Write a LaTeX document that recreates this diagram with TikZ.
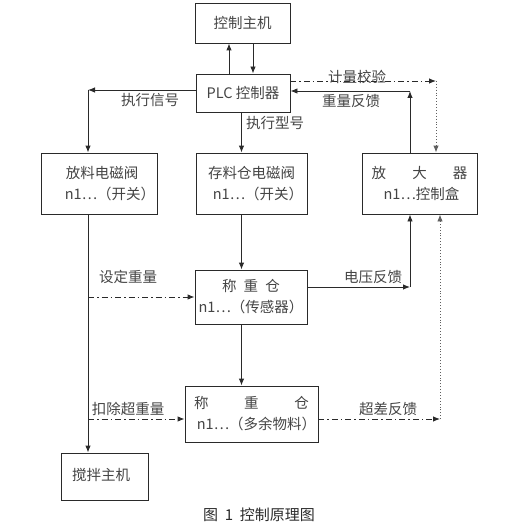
\documentclass[tikz,border=0pt]{standalone}
\usepackage{fontspec}
\setmainfont{Noto Sans CJK SC}
\usetikzlibrary{arrows.meta}
\definecolor{txt}{HTML}{444444}
\definecolor{ln}{HTML}{2A2A2A}
\begin{document}
\begin{tikzpicture}[x=1pt,y=-1pt,
  box/.style={draw=ln, line width=0.9pt, inner sep=0pt, align=center, text=txt,
    font=\fontsize{14.5}{21}\selectfont},
  lbl/.style={text=txt, font=\fontsize{14.5}{17}\selectfont, inner sep=0pt},
  con/.style={draw=ln, line width=0.9pt},
  arr/.style={-{Latex[length=7pt,width=5.5pt]}},
  dd/.style={dash pattern=on 6pt off 3pt on 1.5pt off 3pt},
  dt/.style={draw=ln!75, dotted, line width=0.9pt}
]
\useasboundingbox (0,0) rectangle (509,532);

% boxes
\node[box, minimum width=95pt, minimum height=40pt] (main) at (242.5,23) {控制主机};
\node[box, minimum width=94pt, minimum height=38pt] (plc) at (243,93) {PLC 控制器};
\node[box, minimum width=116pt, minimum height=61pt] (fl) at (99,183.5)
  {\hspace*{6pt}放料电磁阀\\\hspace*{22pt}n1…（开关）};
\node[box, minimum width=111pt, minimum height=61pt] (cl) at (251.5,183.5)
  {存料仓电磁阀\\\hspace*{13pt}n1…（开关）};
\node[box, minimum width=115pt, minimum height=61pt] (amp) at (419.5,183.5)
  {放\hspace{1.8em}大\hspace{1.8em}器\\\hspace*{4pt}n1…控制盒};
\node[box, minimum width=112pt, minimum height=54pt] (w1) at (251,297)
  {称\hspace{0.5em}重\hspace{0.5em}仓\\n1…（传感器）};
\node[box, minimum width=133pt, minimum height=56pt] (w2) at (251.5,414)
  {称\hspace{2.45em}重\hspace{2.45em}仓\\\hspace*{10pt}n1…（多余物料）};
\node[box, minimum width=87pt, minimum height=47pt] (mix) at (104.5,476.5)
  {\raisebox{5pt}{搅拌主机}\hspace*{7pt}};

% guide coordinates
\coordinate (ga) at (229,0);
\coordinate (gb) at (253,0);
\coordinate (gc) at (241.5,0);
\coordinate (c1) at (88,90);
\coordinate (c2) at (436,81);
\coordinate (c3) at (410,91);
\coordinate (c4) at (88,297);
\coordinate (c5) at (410,287);
\coordinate (c6) at (88,419);
\coordinate (c7) at (440,419);

% connectors
\draw[con,arr] (plc.north -| ga) -- (main.south -| ga);
\draw[con,arr] (main.south -| gb) -- (plc.north -| gb);
\draw[con,arr] (plc.west |- c1) -- (c1);
\draw[con,arr] (c1) -- (fl.north -| c1);
\draw[con,arr] (plc.south -| gc) -- (cl.north -| gc);
\draw[con,dd,arr] (plc.east |- c2) -- (c2);
\draw[dt,arr] (c2) -- (amp.north -| c2);
\draw[con,arr] (amp.north -| c3) -- (c3);
\draw[con,arr] (c3) -- (plc.east |- c3);
\draw[con,arr] (cl.south -| gc) -- (w1.north -| gc);
\draw[con,arr] (fl.south -| c4) -- (mix.north -| c4);
\draw[con,dd,arr] (c4) -- (w1.west |- c4);
\draw[con,arr] (w1.east |- c5) -- (c5);
\draw[con,arr] (c5) -- (amp.south -| c5);
\draw[con,arr] (w1.south -| gc) -- (w2.north -| gc);
\draw[con,dd,arr] (c6) -- (w2.west |- c6);
\draw[con,dd,arr] (w2.east |- c7) -- (c7);
\draw[dt,arr] (c7) -- (amp.south -| c7);

% labels
\node[lbl] (l1) at (357,77) {计量校验};
\node[lbl] (l2) at (351,101) {重量反馈};
\node[lbl] (l3) at (150,100) {执行信号};
\node[lbl] (l4) at (275,123) {执行型号};
\node[lbl] (l5) at (128,277) {设定重量};
\node[lbl] (l6) at (373,277) {电压反馈};
\node[lbl] (l7) at (128,409) {扣除超重量};
\node[lbl] (l8) at (388,409) {超差反馈};
\node[lbl, text=ln, font=\fontsize{15}{17}\selectfont] (cap) at (259,515)
  {图\hspace{0.45em}1\hspace{0.45em}控制原理图};
\end{tikzpicture}
\end{document}
